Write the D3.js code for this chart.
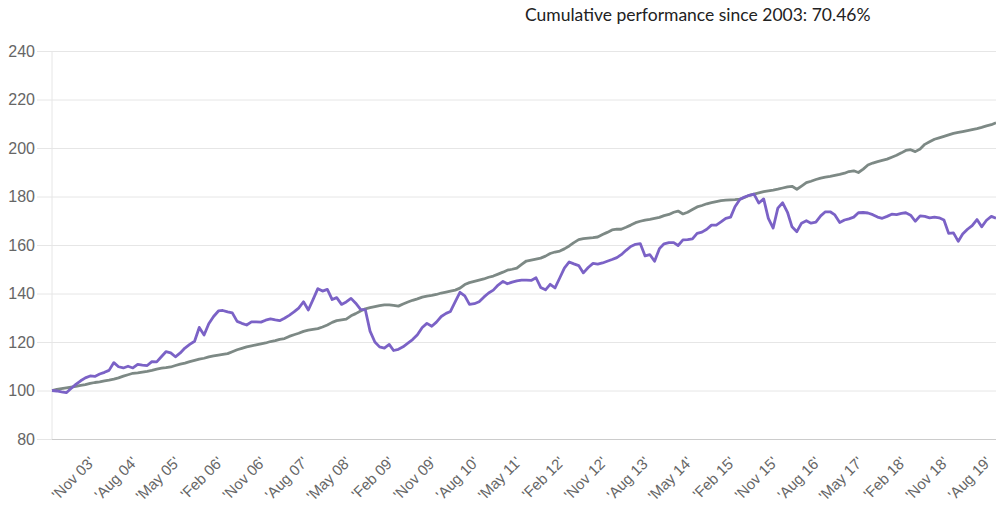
<!DOCTYPE html>
<html>
<head>
<meta charset="utf-8">
<script src="https://cdn.jsdelivr.net/npm/d3@7"></script>
<style>
  html, body { margin: 0; padding: 0; background: #fff; }
  svg { display: block; }
  .tick text { font-family: "Liberation Sans", Arial, sans-serif; fill: #666; }
</style>
</head>
<body>
<div id="chart"></div>
<script>
// monthly values, Mar 2003 .. Oct 2019 (index 0 = Mar 03)
const startMonth = new Date(2003, 2, 1);
const endMonth = new Date(2019, 10, 1);

const fundValues = [
  100, 99.8, 99.4, 99.1, 100.8, 102.5, 104, 105.2, 106, 105.8,
  106.8, 107.5, 108.3, 111.5, 109.8, 109.3, 110, 109.3, 110.8, 110.5,
  110.3, 111.9, 111.8, 114, 116, 115.5, 113.9, 115.5, 117.5, 119,
  120.3, 126, 122.9, 127.5, 130.5, 132.8, 133, 132.4, 132, 128.5,
  127.7, 127, 128.3, 128.3, 128.2, 129, 129.5, 129.1, 128.8, 129.8,
  131, 132.4, 134, 136.6, 133.2, 137.5, 142, 141, 141.7, 137.5,
  138.3, 135.5, 136.5, 138, 136, 133.5, 133.2, 124.5, 120, 118,
  117.5, 119, 116.5, 117, 118, 119.5, 121, 123, 126, 127.7,
  126.5, 128.2, 130.5, 131.8, 132.6, 136.6, 140.5, 139, 135.5, 135.8,
  136.6, 138.5, 140.2, 141.4, 143.5, 145, 144, 144.7, 145.2, 145.5,
  145.5, 145.4, 146.5, 142.5, 141.5, 143.8, 142.3, 146.5, 150.5, 153,
  152.2, 151.5, 148.5, 150.7, 152.4, 152.1, 152.6, 153.3, 154, 154.8,
  156, 157.8, 159.4, 160.3, 160.6, 155.5, 156, 153.3, 158.5, 160.5,
  161, 161, 159.8, 162.1, 162.2, 162.5, 164.8, 165.3, 166.5, 168.2,
  168.2, 169.5, 171, 171.5, 175.8, 178.8, 179.8, 180.5, 181, 177.3,
  179, 171, 167, 175.2, 177.4, 173.5, 167.5, 165.5, 169, 170,
  169, 169.4, 172, 173.7, 173.7, 172.4, 169.3, 170.3, 170.8, 171.5,
  173.3, 173.4, 173.2, 172.5, 171.5, 171, 171.8, 172.7, 172.5, 173,
  173.3, 172.3, 169.8, 172, 171.8, 171.2, 171.5, 171.2, 170.3, 164.8,
  165, 161.5, 164.5, 166.5, 168, 170.5, 167.5, 170.2, 171.8, 171
];

const benchmarkValues = [
  100, 100.5, 100.8, 101.1, 101.4, 101.7, 102.1, 102.4, 102.9, 103.3,
  103.6, 104, 104.3, 104.7, 105.2, 105.9, 106.5, 107.1, 107.3, 107.6,
  107.9, 108.3, 108.8, 109.2, 109.4, 109.7, 110.3, 110.9, 111.3, 111.9,
  112.4, 112.9, 113.3, 113.9, 114.3, 114.6, 114.9, 115.2, 116, 116.8,
  117.4, 118, 118.4, 118.8, 119.2, 119.6, 120.2, 120.6, 121.1, 121.4,
  122.3, 123, 123.6, 124.4, 124.9, 125.2, 125.5, 126.2, 127, 128.1,
  128.8, 129.1, 129.4, 130.8, 131.7, 132.8, 133.7, 134.2, 134.6, 135,
  135.3, 135.3, 135.1, 134.8, 135.7, 136.5, 137.2, 137.8, 138.5, 138.9,
  139.2, 139.6, 140.2, 140.6, 141, 141.4, 142.2, 143.7, 144.5, 145,
  145.5, 146, 146.7, 147.2, 148, 148.8, 149.6, 150, 150.5, 152,
  153.4, 153.8, 154.2, 154.6, 155.4, 156.5, 157.1, 157.5, 158.4, 159.6,
  161, 162.2, 162.6, 162.8, 163, 163.3, 164.3, 165.2, 166.2, 166.5,
  166.5, 167.3, 168.2, 169.2, 169.8, 170.3, 170.6, 171, 171.4, 172.1,
  172.6, 173.5, 174, 172.8, 173.5, 174.6, 175.7, 176.3, 177, 177.5,
  177.9, 178.3, 178.5, 178.6, 178.7, 178.9, 179.6, 180.5, 181, 181.5,
  182, 182.3, 182.6, 183, 183.5, 184, 184.2, 183, 184.3, 185.7,
  186.3, 187, 187.6, 188, 188.3, 188.7, 189.1, 189.6, 190.3, 190.6,
  189.9, 191.3, 193, 193.8, 194.4, 194.9, 195.4, 196.2, 197, 198,
  199, 199.3, 198.5, 199.6, 201.5, 202.6, 203.6, 204.2, 204.8, 205.4,
  206, 206.4, 206.8, 207.2, 207.6, 208, 208.5, 209.1, 209.6, 210.4
];

const tickLabels = [
  "'Nov 03'", "'Aug 04'", "'May 05'", "'Feb 06'", "'Nov 06'", "'Aug 07'",
  "'May 08'", "'Feb 09'", "'Nov 09'", "'Aug 10'", "'May 11'", "'Feb 12'",
  "'Nov 12'", "'Aug 13'", "'May 14'", "'Feb 15'", "'Nov 15'", "'Aug 16'",
  "'May 17'", "'Feb 18'", "'Nov 18'", "'Aug 19'"
];
const yTicks = [80, 100, 120, 140, 160, 180, 200, 220, 240];

const title = "Cumulative performance since 2003: 70.46%";

const width = 996;
const height = 508;
const margin = {top: 51, right: 0, bottom: 69, left: 52};

const months = d3.timeMonth.range(startMonth, endMonth);
const parseLabel = d3.timeParse("'%b %y'");
const tickDates = tickLabels.map((l) => parseLabel(l));

const x = d3.scaleTime()
  .domain([months[0], months[months.length - 1]])
  .range([margin.left, width - margin.right]);
const y = d3.scaleLinear()
  .domain([80, 240])
  .range([height - margin.bottom, margin.top]);

const svg = d3.select('#chart').append('svg')
  .attr('width', width)
  .attr('height', height)
  .attr('viewBox', [0, 0, width, height]);

// y axis with gridlines
const gridLeft = 37;
svg.append('g')
  .attr('transform', `translate(${gridLeft},0)`)
  .call(d3.axisLeft(y).tickValues(yTicks).tickSize(-(width - gridLeft)).tickPadding(2))
  .call((g) => g.select('.domain').remove())
  .call((g) => g.selectAll('.tick line').attr('stroke', '#e6e6e6'))
  .call((g) => g.selectAll('.tick text').attr('font-size', 16).attr('fill', '#666'));

// vertical axis line
svg.append('line')
  .attr('x1', margin.left).attr('x2', margin.left)
  .attr('y1', margin.top).attr('y2', height - margin.bottom)
  .attr('stroke', '#e6e6e6');

// x axis
svg.append('g')
  .attr('transform', `translate(0,${height - margin.bottom})`)
  .call(d3.axisBottom(x).tickValues(tickDates).tickFormat((d, i) => tickLabels[i]).tickSize(0))
  .call((g) => g.select('.domain').attr('stroke', '#ccc').attr('d', `M${margin.left},0.5H${width}`))
  .call((g) => g.selectAll('.tick text')
    .attr('font-size', 15)
    .attr('fill', '#666')
    .attr('text-anchor', 'end')
    .attr('dy', null)
    .attr('y', null)
    .attr('transform', 'translate(5,24) rotate(-45)'));

const line = (vals) => d3.line()
  .x((d, i) => x(months[i]))
  .y((d) => y(d))(vals);

svg.append('path')
  .attr('d', line(benchmarkValues))
  .attr('fill', 'none')
  .attr('stroke', '#7d8985')
  .attr('stroke-width', 2.8)
  .attr('stroke-linejoin', 'round');

svg.append('path')
  .attr('d', line(fundValues))
  .attr('fill', 'none')
  .attr('stroke', '#7b62c6')
  .attr('stroke-width', 2.8)
  .attr('stroke-linejoin', 'round');

svg.append('text')
  .attr('x', 525)
  .attr('y', 21)
  .attr('font-family', 'Lato, sans-serif')
  .attr('font-size', 17.5)
  .attr('fill', '#222')
  .text(title);
</script>
</body>
</html>
